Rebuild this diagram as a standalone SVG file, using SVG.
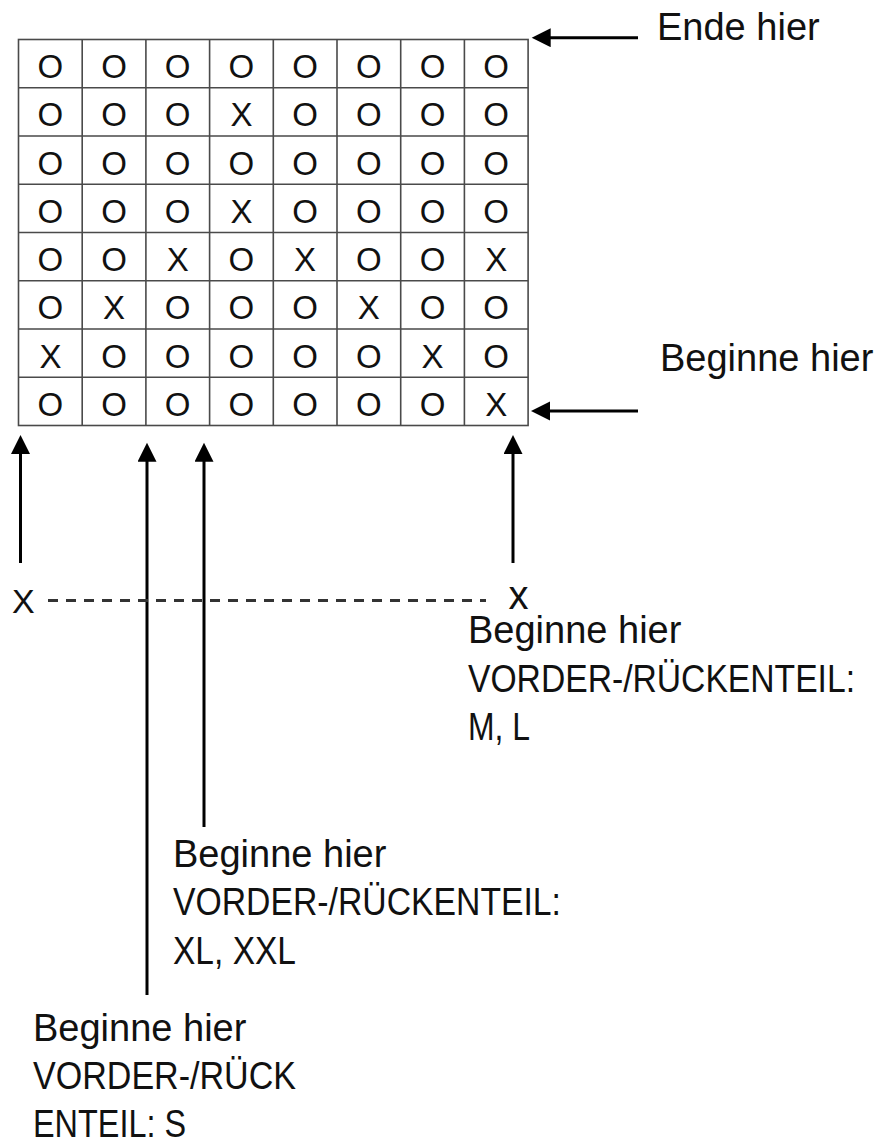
<svg xmlns="http://www.w3.org/2000/svg" width="880" height="1144" viewBox="0 0 880 1144">
<style>
  .cell { font-family: "Liberation Sans", Arial, sans-serif; font-size: 33px; fill: #111; text-anchor: middle; }
  .lbl { font-family: "Liberation Sans", Arial, sans-serif; font-size: 38px; fill: #111; }
  .mark { font-family: "Liberation Sans", Arial, sans-serif; fill: #111; }
  .grid { stroke: #4a4a4a; stroke-width: 1.6; fill: none; }
  .arrow { stroke: #000; stroke-width: 3; fill: none; marker-end: url(#head); }
  .dash { stroke: #333; stroke-width: 3; stroke-dasharray: 10 8; fill: none; }
</style>
<defs>
  <marker id="head" markerUnits="userSpaceOnUse" markerWidth="20" markerHeight="20" refX="9" refY="9.5" orient="auto" viewBox="0 0 20 20">
    <path d="M0,0 L19,9.5 L0,19 z" fill="#000"/>
  </marker>
</defs>
<rect width="880" height="1144" fill="#fff"/>

<g id="chart">
  <rect class="grid" x="18.5" y="39.5" width="509.6" height="386"/>
  <path class="grid" d="M82.2,39.5V425.5M145.9,39.5V425.5M209.6,39.5V425.5M273.3,39.5V425.5M337,39.5V425.5M400.7,39.5V425.5M464.4,39.5V425.5M18.5,87.75H528.1M18.5,136H528.1M18.5,184.25H528.1M18.5,232.5H528.1M18.5,280.75H528.1M18.5,329H528.1M18.5,377.25H528.1"/>
  <g class="cell">
    <text x="50.4" y="78">O</text><text x="114" y="78">O</text><text x="177.7" y="78">O</text><text x="241.4" y="78">O</text><text x="305.1" y="78">O</text><text x="368.8" y="78">O</text><text x="432.5" y="78">O</text><text x="496.2" y="78">O</text>
    <text x="50.4" y="126.2">O</text><text x="114" y="126.2">O</text><text x="177.7" y="126.2">O</text><text x="241.4" y="126.2">X</text><text x="305.1" y="126.2">O</text><text x="368.8" y="126.2">O</text><text x="432.5" y="126.2">O</text><text x="496.2" y="126.2">O</text>
    <text x="50.4" y="174.5">O</text><text x="114" y="174.5">O</text><text x="177.7" y="174.5">O</text><text x="241.4" y="174.5">O</text><text x="305.1" y="174.5">O</text><text x="368.8" y="174.5">O</text><text x="432.5" y="174.5">O</text><text x="496.2" y="174.5">O</text>
    <text x="50.4" y="222.7">O</text><text x="114" y="222.7">O</text><text x="177.7" y="222.7">O</text><text x="241.4" y="222.7">X</text><text x="305.1" y="222.7">O</text><text x="368.8" y="222.7">O</text><text x="432.5" y="222.7">O</text><text x="496.2" y="222.7">O</text>
    <text x="50.4" y="271">O</text><text x="114" y="271">O</text><text x="177.7" y="271">X</text><text x="241.4" y="271">O</text><text x="305.1" y="271">X</text><text x="368.8" y="271">O</text><text x="432.5" y="271">O</text><text x="496.2" y="271">X</text>
    <text x="50.4" y="319.2">O</text><text x="114" y="319.2">X</text><text x="177.7" y="319.2">O</text><text x="241.4" y="319.2">O</text><text x="305.1" y="319.2">O</text><text x="368.8" y="319.2">X</text><text x="432.5" y="319.2">O</text><text x="496.2" y="319.2">O</text>
    <text x="50.4" y="367.5">X</text><text x="114" y="367.5">O</text><text x="177.7" y="367.5">O</text><text x="241.4" y="367.5">O</text><text x="305.1" y="367.5">O</text><text x="368.8" y="367.5">O</text><text x="432.5" y="367.5">X</text><text x="496.2" y="367.5">O</text>
    <text x="50.4" y="415.7">O</text><text x="114" y="415.7">O</text><text x="177.7" y="415.7">O</text><text x="241.4" y="415.7">O</text><text x="305.1" y="415.7">O</text><text x="368.8" y="415.7">O</text><text x="432.5" y="415.7">O</text><text x="496.2" y="415.7">X</text>
  </g>
</g>

<g id="connectors">
  <line class="arrow" x1="638" y1="37.7" x2="541.7" y2="37.7"/>
  <line class="arrow" x1="638" y1="411" x2="541" y2="411"/>
  <line class="arrow" x1="20.5" y1="563" x2="20.5" y2="445"/>
  <line class="arrow" x1="147" y1="995" x2="147" y2="452.7"/>
  <line class="arrow" x1="204" y1="827" x2="204" y2="452.7"/>
  <line class="arrow" x1="513" y1="563" x2="513" y2="445"/>
  <line class="dash" x1="48" y1="600.5" x2="486" y2="600.5"/>
</g>

<g id="label-end"><text class="lbl" x="657" y="40">Ende hier</text></g>
<g id="label-start"><text class="lbl" x="660" y="371">Beginne hier</text></g>
<g id="mark-left"><text class="mark" x="12" y="612.5" font-size="34">X</text></g>
<g id="mark-right"><text class="mark" x="508.5" y="608.5" font-size="40">x</text></g>
<g id="label-ml">
  <text class="lbl" x="468" y="643">Beginne hier</text>
  <text class="lbl" x="468" y="691.5" textLength="387" lengthAdjust="spacingAndGlyphs">VORDER-/RÜCKENTEIL:</text>
  <text class="lbl" x="468" y="740" textLength="62" lengthAdjust="spacingAndGlyphs">M, L</text>
</g>
<g id="label-xl">
  <text class="lbl" x="173" y="866.5">Beginne hier</text>
  <text class="lbl" x="173" y="915" textLength="388" lengthAdjust="spacingAndGlyphs">VORDER-/RÜCKENTEIL:</text>
  <text class="lbl" x="173" y="963.5" textLength="123" lengthAdjust="spacingAndGlyphs">XL, XXL</text>
</g>
<g id="label-s">
  <text class="lbl" x="33" y="1041">Beginne hier</text>
  <text class="lbl" x="33" y="1089" textLength="263" lengthAdjust="spacingAndGlyphs">VORDER-/RÜCK</text>
  <text class="lbl" x="33" y="1136.5" textLength="153" lengthAdjust="spacingAndGlyphs">ENTEIL: S</text>
</g>
</svg>
